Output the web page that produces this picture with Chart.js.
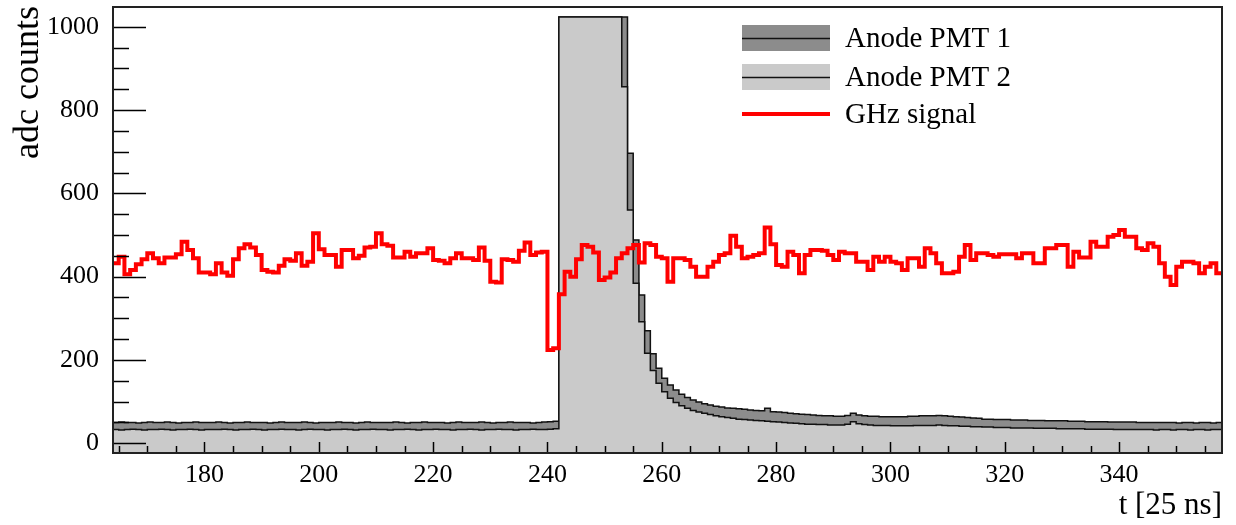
<!DOCTYPE html>
<html><head><meta charset="utf-8">
<script src="https://cdn.jsdelivr.net/npm/chart.js@4.4.1/dist/chart.umd.min.js"></script>
<style>html,body{margin:0;padding:0;background:#fff;} #wrap{width:1236px;height:525px;}</style>
</head><body><div id="wrap"><canvas id="c" width="1236" height="525"></canvas></div>
<script>
// ---- data (bins of width 1, first bin starts at t = 164) ----
const binStart = 164;
const seriesNames = ['Anode PMT 1', 'Anode PMT 2', 'GHz signal'];
const ghzSignal = [
 432,448,406,416,430,442,456,444,432,446,
 446,454,484,464,444,410,410,406,432,410,
 402,442,468,478,470,452,416,412,410,426,
 442,438,456,426,436,504,466,452,452,424,
 464,464,444,450,470,472,504,478,474,446,
 446,460,448,456,456,468,440,438,432,444,
 456,444,444,440,470,438,388,386,442,440,
 436,462,482,452,458,460,224,228,358,412,
 400,442,476,472,458,392,398,410,444,456,
 468,476,434,480,476,448,444,388,444,444,
 440,424,400,400,424,436,452,456,498,472,
 444,448,452,456,518,478,428,424,460,452,
 408,452,464,464,462,452,440,460,456,456,
 436,436,416,448,436,448,436,432,416,444,
 444,424,468,456,432,408,408,412,448,476,
 440,456,456,452,448,454,454,454,444,456,
 456,432,432,468,468,476,476,424,460,446,
 446,484,472,472,496,500,512,496,496,468,
 464,480,472,432,400,380,424,436,436,432,
 408,424,432,408
];
const anodePmt1 = [
 50,51,50,50,49,50,51,50,50,51, 50,49,50,50,51,50,50,50,51,50,
 49,50,50,51,50,50,50,49,50,51, 50,50,50,51,50,49,50,50,50,51,
 50,50,49,50,51,50,50,50,50,51, 50,49,50,50,51,50,50,50,49,50,
 51,50,50,50,51,50,49,50,50,51, 50,50,50,49,50,51,52,53,
 1023,1023,1023,1023,1023,1023,1023,1023,1023,1023,1023,1023,
 696,488,356,270,215,180,156,140,128,118,
 110,104,99,95,92,89,87,85,84,83,
 82,80,79,78,84,76,75,74,72,71,
 70,69,68,67,66,66,65,65,67,72,
 68,66,65,65,64,64,64,64,64,65,
 65,66,66,66,67,66,65,64,63,62,
 61,60,58,58,57,57,57,56,56,56,
 55,55,55,54,54,54,54,53,53,53,
 52,52,52,52,51,51,51,51,51,50,
 50,50,50,50,50,50,49,50,50,49,
 50,50,49,50
];
const anodePmt2 = [
 33,32,33,34,33,32,33,33,34,33, 32,33,33,34,33,32,33,33,33,34,
 33,32,33,33,34,33,32,33,33,34, 33,33,32,33,34,33,33,32,33,33,
 34,33,32,33,33,34,33,33,32,33, 33,34,33,32,33,33,34,33,33,32,
 33,33,34,33,32,33,33,34,33,33, 32,33,33,34,33,33,34,35,
 1023,1023,1023,1023,1023,1023,1023,1023,1023,1023,1023,
 856,560,384,292,216,175,144,124,108,98,
 90,84,79,75,72,69,66,64,62,60,
 58,57,56,55,54,53,52,51,50,49,
 48,47,46,46,45,45,44,44,44,46,
 52,47,45,44,43,43,43,42,42,42,
 42,43,43,43,43,44,43,42,42,41,
 41,40,40,39,39,38,38,38,37,37,
 37,37,36,36,36,36,35,35,35,35,
 35,34,34,34,34,34,33,33,33,33,
 33,33,33,32,33,33,32,33,33,32,
 33,33,32,33,33
];
const xTickLabels = [180,200,220,240,260,280,300,320,340];
const yTickLabels = [0,200,400,600,800,1000];
const xTitle = 't [25 ns]';
const yTitle = 'adc counts';

// ---- build step points (each bin value held until the next bin edge) ----
function toPoints(vals){
  const pts = vals.map((v,i)=>({x: binStart+i, y: v}));
  pts.push({x: binStart+vals.length, y: vals[vals.length-1]});
  return pts;
}

const FONT = '"Liberation Serif", "Times New Roman", serif';
const COL_DARK = '#8c8c8c', COL_LIGHT = '#cacaca', COL_RED = '#ff0000';

const decor = {
  id: 'decor',
  afterDraw(chart){
    const {ctx, chartArea:a, scales:{x,y}} = chart;
    ctx.save();
    ctx.strokeStyle = '#000';
    ctx.lineWidth = 1.5;
    // y ticks (inside)
    for (let v = Math.ceil(y.min/50)*50; v <= y.max; v += 50){
      const py = Math.round(y.getPixelForValue(v)) + 0.5;
      const len = yTickLabels.includes(v) ? 33 : 16;
      ctx.beginPath(); ctx.moveTo(a.left, py); ctx.lineTo(a.left+len, py); ctx.stroke();
    }
    // x ticks (inside)
    for (let v = Math.ceil(x.min/5)*5; v <= x.max; v += 5){
      const px = Math.round(x.getPixelForValue(v)) + 0.5;
      const len = xTickLabels.includes(v) ? 11 : 7;
      ctx.beginPath(); ctx.moveTo(px, a.bottom); ctx.lineTo(px, a.bottom-len); ctx.stroke();
    }
    // frame
    ctx.lineWidth = 2;
    ctx.strokeStyle = '#222';
    ctx.strokeRect(a.left, a.top, a.right-a.left, a.bottom-a.top);
    // axis titles
    ctx.fillStyle = '#000';
    ctx.font = '31px ' + FONT;
    ctx.textAlign = 'right'; ctx.textBaseline = 'alphabetic';
    ctx.fillText(xTitle, a.right, 514);
    ctx.save();
    ctx.translate(38, a.top - 1);
    ctx.rotate(-Math.PI/2);
    ctx.font = '36px ' + FONT;
    ctx.textAlign = 'right';
    ctx.fillText(yTitle, 0, 0);
    ctx.restore();
    // legend
    const lx = 742, lw = 88, rows = [38, 77, 114];
    const fills = [COL_DARK, COL_LIGHT, null];
    ctx.font = '29px ' + FONT;
    ctx.textAlign = 'left'; ctx.textBaseline = 'middle';
    rows.forEach((ry, i) => {
      if (fills[i]){
        ctx.fillStyle = fills[i];
        ctx.fillRect(lx, ry-13, lw, 26);
        ctx.strokeStyle = '#111'; ctx.lineWidth = 1.5;
        ctx.beginPath(); ctx.moveTo(lx, ry+0.5); ctx.lineTo(lx+lw, ry+0.5); ctx.stroke();
      } else {
        ctx.strokeStyle = COL_RED; ctx.lineWidth = 4;
        ctx.beginPath(); ctx.moveTo(lx, ry); ctx.lineTo(lx+lw, ry); ctx.stroke();
      }
      ctx.fillStyle = '#000';
      ctx.fillText(seriesNames[i], 845, ry+1);
    });
    ctx.restore();
  }
};

new Chart(document.getElementById('c'), {
  type: 'line',
  data: {
    datasets: [
      { label: seriesNames[0], data: toPoints(anodePmt1), stepped: true, fill: 'start',
        backgroundColor: COL_DARK, borderColor: '#111', borderWidth: 1.5, pointRadius: 0, order: 3 },
      { label: seriesNames[1], data: toPoints(anodePmt2), stepped: true, fill: 'start',
        backgroundColor: COL_LIGHT, borderColor: '#111', borderWidth: 1.5, pointRadius: 0, order: 2 },
      { label: seriesNames[2], data: toPoints(ghzSignal), stepped: true, fill: false,
        borderColor: COL_RED, borderWidth: 4, pointRadius: 0, order: 1 }
    ]
  },
  options: {
    responsive: false,
    animation: false,
    layout: { padding: { top: 7, right: 14, left: 0, bottom: 0 } },
    plugins: { legend: { display: false }, tooltip: { enabled: false } },
    scales: {
      x: {
        type: 'linear', min: 164, max: 358,
        afterBuildTicks: s => { s.ticks = xTickLabels.map(v => ({value: v})); },
        afterFit: s => { s.height = 72; s.paddingLeft = 0; s.paddingRight = 0; },
        grid: { display: false, drawTicks: false },
        border: { display: false },
        ticks: { font: { family: FONT, size: 26 }, color: '#000', padding: 7, maxRotation: 0, autoSkip: false,
                 callback: v => String(v) }
      },
      y: {
        type: 'linear', min: -23.3, max: 1047.3,
        afterBuildTicks: s => { s.ticks = yTickLabels.map(v => ({value: v})); },
        afterFit: s => { s.width = 113; s.paddingTop = 0; s.paddingBottom = 0; },
        grid: { display: false, drawTicks: false },
        border: { display: false },
        ticks: { font: { family: FONT, size: 26 }, color: '#000', padding: 14,
                 callback: v => String(v) }
      }
    }
  },
  plugins: [decor]
});
</script></body></html>
